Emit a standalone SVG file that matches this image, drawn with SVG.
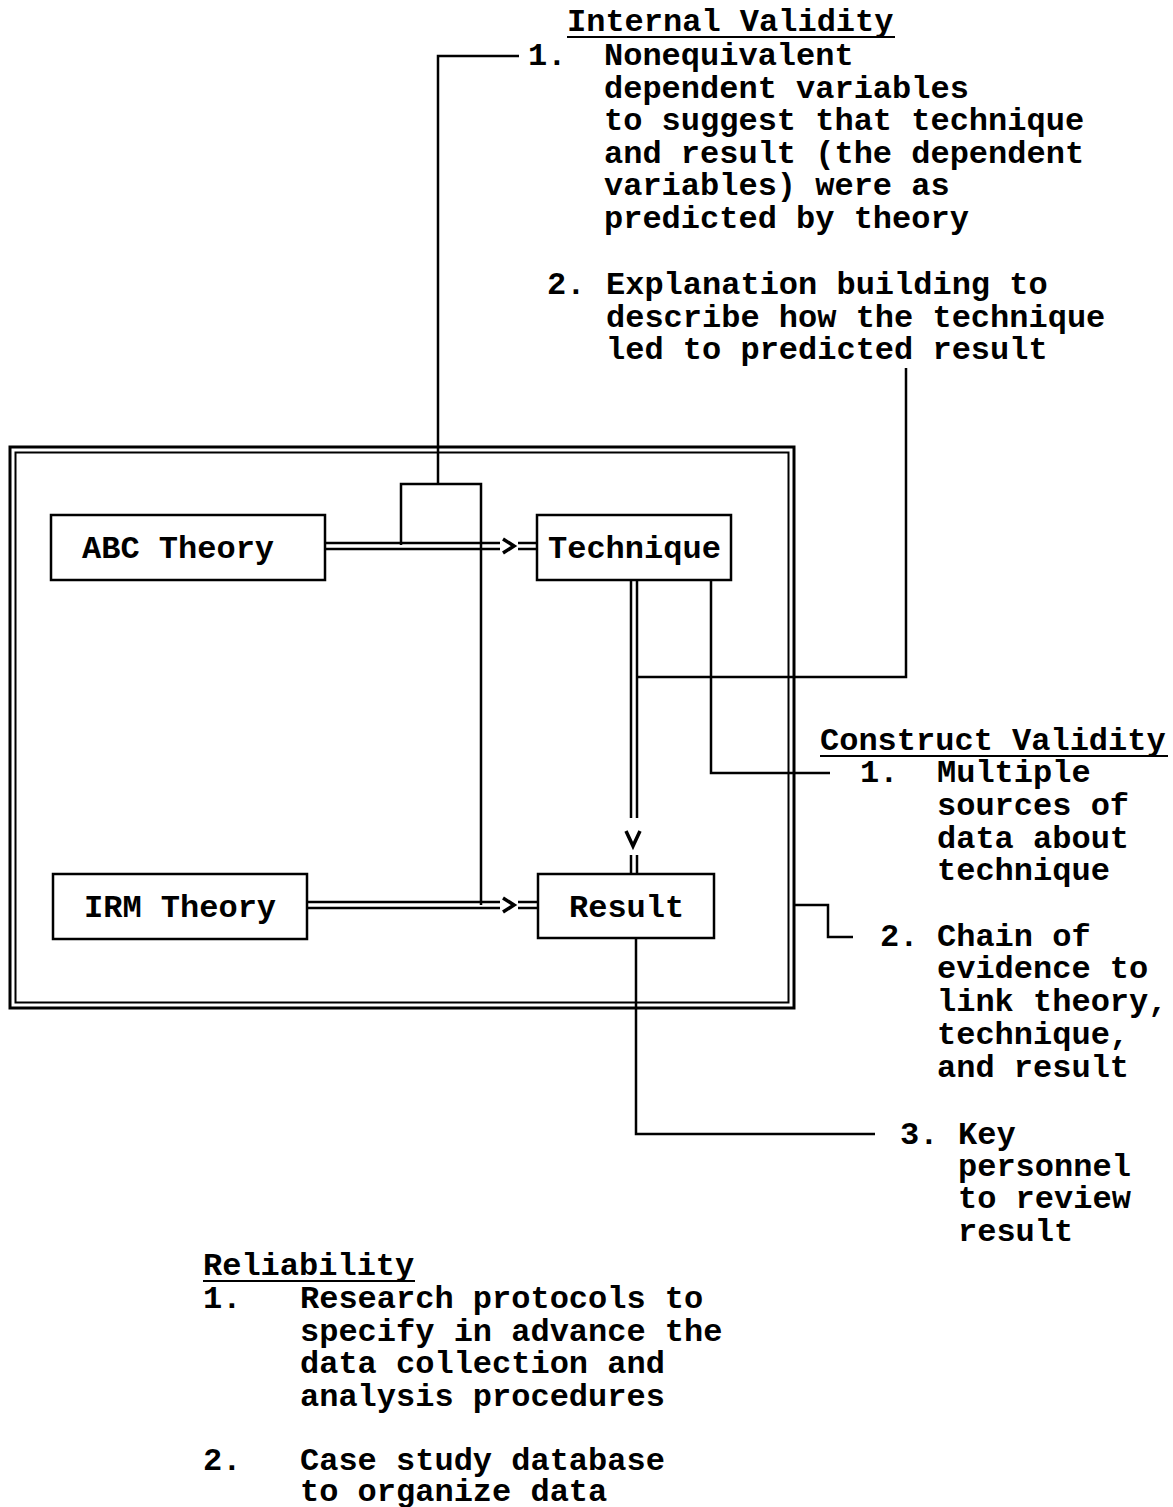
<svg xmlns="http://www.w3.org/2000/svg" width="1173" height="1507" viewBox="0 0 1173 1507">
<style>
text{font-family:"Liberation Mono","Courier New",monospace;font-size:32px;font-weight:bold;fill:#000;white-space:pre}
.ln{fill:none;stroke:#000;stroke-width:2.5}
.ah{fill:none;stroke:#000;stroke-width:3.5}
.box{fill:#fff;stroke:#000;stroke-width:2.5}
.u{stroke:#000;stroke-width:2}
</style>
<rect width="1173" height="1507" fill="#fff"/>
<g id="frame">
<rect x="10" y="447" width="784" height="561" fill="none" stroke="#000" stroke-width="3"/>
<rect x="15.5" y="452.5" width="773" height="550" fill="none" stroke="#000" stroke-width="2"/>
</g>
<g id="connectors" class="ln">
<polyline points="519,56 438,56 438,484"/>
<polyline points="401,545 401,484 481,484 481,905"/>
<line x1="325" y1="543" x2="500" y2="543"/>
<line x1="325" y1="549" x2="500" y2="549"/>
<polyline class="ah" points="503,539 514,546 503,553"/>
<line x1="518" y1="543" x2="537" y2="543"/>
<line x1="518" y1="549" x2="537" y2="549"/>
<line x1="307" y1="902" x2="500" y2="902"/>
<line x1="307" y1="908" x2="500" y2="908"/>
<polyline class="ah" points="503,898 514,905 503,912"/>
<line x1="518" y1="902" x2="538" y2="902"/>
<line x1="518" y1="908" x2="538" y2="908"/>
<line x1="631" y1="580" x2="631" y2="818"/>
<line x1="637" y1="580" x2="637" y2="818"/>
<polyline class="ah" points="626,831 633,846 640,831"/>
<line x1="631" y1="855" x2="631" y2="874"/>
<line x1="637" y1="855" x2="637" y2="874"/>
<polyline points="711,580 711,773 830,773"/>
<polyline points="906,368 906,677 637,677"/>
<polyline points="794,905 828,905 828,937 853,937"/>
<polyline points="636,938 636,1134 875,1134"/>
</g>
<g id="abc-theory"><rect class="box" x="51" y="515" width="274" height="65"/><text x="82" y="558">ABC Theory</text></g>
<g id="technique"><rect class="box" x="537" y="515" width="194" height="65"/><text x="548" y="558">Technique</text></g>
<g id="irm-theory"><rect class="box" x="53" y="874" width="254" height="65"/><text x="84" y="917">IRM Theory</text></g>
<g id="result"><rect class="box" x="538" y="874" width="176" height="64"/><text x="569" y="917">Result</text></g>
<g id="internal-validity">
<text x="567" y="31">Internal Validity</text><line class="u" x1="567" y1="37" x2="895" y2="37"/>
<text x="528" y="65">1.</text>
<text x="604" y="65">Nonequivalent</text>
<text x="604" y="98">dependent variables</text>
<text x="604" y="130">to suggest that technique</text>
<text x="604" y="163">and result (the dependent</text>
<text x="604" y="195">variables) were as</text>
<text x="604" y="228">predicted by theory</text>
<text x="547" y="294">2.</text>
<text x="606" y="294">Explanation building to</text>
<text x="606" y="327">describe how the technique</text>
<text x="606" y="359">led to predicted result</text>
</g>
<g id="construct-validity">
<text x="820" y="750">Construct Validity</text><line class="u" x1="820" y1="756" x2="1168" y2="756"/>
<text x="860" y="782">1.</text>
<text x="937" y="782">Multiple</text>
<text x="937" y="815">sources of</text>
<text x="937" y="848">data about</text>
<text x="937" y="880">technique</text>
<text x="880" y="946">2.</text>
<text x="937" y="946">Chain of</text>
<text x="937" y="978">evidence to</text>
<text x="937" y="1011">link theory,</text>
<text x="937" y="1044">technique,</text>
<text x="937" y="1077">and result</text>
<text x="900" y="1144">3.</text>
<text x="958" y="1144">Key</text>
<text x="958" y="1176">personnel</text>
<text x="958" y="1208">to review</text>
<text x="958" y="1241">result</text>
</g>
<g id="reliability">
<text x="203" y="1275">Reliability</text><line class="u" x1="203" y1="1281" x2="415" y2="1281"/>
<text x="203" y="1308">1.</text>
<text x="300" y="1308">Research protocols to</text>
<text x="300" y="1341">specify in advance the</text>
<text x="300" y="1373">data collection and</text>
<text x="300" y="1406">analysis procedures</text>
<text x="203" y="1470">2.</text>
<text x="300" y="1470">Case study database</text>
<text x="300" y="1501">to organize data</text>
</g>
</svg>
